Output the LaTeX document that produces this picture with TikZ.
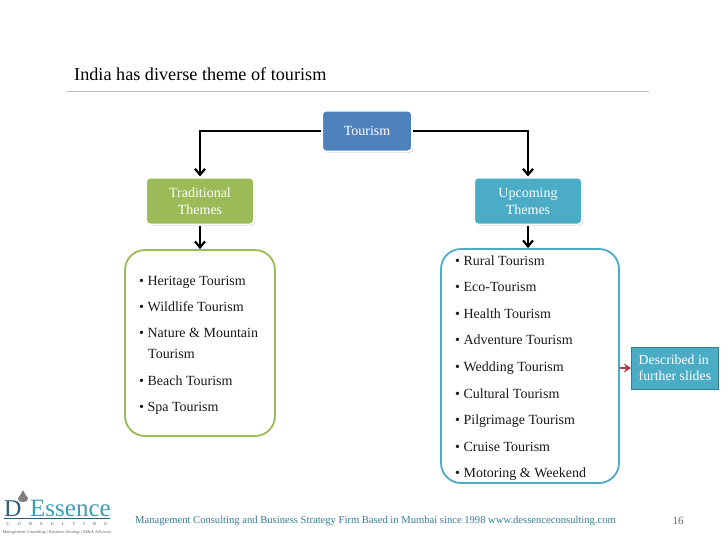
\documentclass[tikz,border=0pt]{standalone}
\usepackage{fontspec}
\setmainfont{Liberation Serif}
\usetikzlibrary{arrows.meta,shadows}
\definecolor{blueb}{HTML}{4F81BD}
\definecolor{greenb}{HTML}{9BBB59}
\definecolor{tealb}{HTML}{4BACC6}
\definecolor{teald}{HTML}{357F93}
\definecolor{logod}{HTML}{2F5D78}
\definecolor{logol}{HTML}{3E9DB5}
\definecolor{redarrow}{HTML}{B03A48}
\tikzset{
 x=1pt,y=-1pt,
 headbox/.style={rounded corners=4pt,draw=white,line width=2pt,text=white,align=center,font=\fontsize{14}{17}\selectfont,inner sep=0pt,
   drop shadow={shadow xshift=1pt,shadow yshift=-1pt,opacity=.6,fill=black!60,rounded corners=5pt}},
 arrowline/.style={draw=black,line width=2.2pt,-{Straight Barb[length=6pt,width=10pt,line width=2.2pt]}},
 listbox/.style={rounded corners=20pt,line width=1.8pt,fill=white,inner sep=0pt},
 item/.style={anchor=base west,inner sep=0pt,font=\fontsize{14}{21}\selectfont,text=black!90},
}
\begin{document}
\begin{tikzpicture}
\useasboundingbox (0,0) rectangle (728,546);
\fill[white] (0,0) rectangle (728,546);
\node[anchor=west,inner sep=0pt,font=\fontsize{18.2}{22}\selectfont] (title) at (74,74.5) {India has diverse theme of tourism};
\coordinate (ruleL) at (67,91);
\coordinate (ruleR) at (649,91);
\draw[black!25,line width=1pt] (ruleL) -- (ruleR);

\node[headbox,fill=blueb,minimum width=90pt,minimum height=41pt] (tourism) at (367,131) {Tourism};
\node[headbox,fill=greenb,minimum width=108pt,minimum height=47pt] (trad) at (200,201) {Traditional\\Themes};
\node[headbox,fill=tealb,minimum width=108pt,minimum height=47pt] (up) at (528,201) {Upcoming\\Themes};

\node[listbox,draw=greenb,minimum width=150pt,minimum height=186pt] (left) at (200,343) {};
\node[listbox,draw=tealb,minimum width=178pt,minimum height=234pt] (right) at (530,366) {};

\draw[arrowline] (tourism.west) -| (trad.north);
\draw[arrowline] (tourism.east) -| (up.north);
\draw[arrowline] (trad.south) -- (trad.south |- left.north);
\draw[arrowline] (up.south) -- (up.south |- right.north);

\node[item] (l1) at (139,285) {• Heritage Tourism};
\node[item] (l2) at (139,311) {• Wildlife Tourism};
\node[item] (l3) at (139,337.5) {• Nature \& Mountain};
\node[item] (l3b) at (148,358) {Tourism};
\node[item] (l4) at (139,385) {• Beach Tourism};
\node[item] (l5) at (139,411) {• Spa Tourism};

\node[item] (r1) at (455,265) {• Rural Tourism};
\node[item] (r2) at (455,291.5) {• Eco-Tourism};
\node[item] (r3) at (455,318) {• Health Tourism};
\node[item] (r4) at (455,344.5) {• Adventure Tourism};
\node[item] (r5) at (455,371) {• Wedding Tourism};
\node[item] (r6) at (455,398) {• Cultural Tourism};
\node[item] (r7) at (455,424) {• Pilgrimage Tourism};
\node[item] (r8) at (455,451) {• Cruise Tourism};
\node[item] (r9) at (455,477) {• Motoring \& Weekend};

\node[draw=teald,fill=tealb,line width=.8pt,minimum width=87pt,minimum height=42pt,inner sep=0pt,text=white,align=left,anchor=west,font=\fontsize{13.8}{16}\selectfont] (note) at (631,368) {Described in\\further slides};
\draw[draw=redarrow,line width=2pt,-{Stealth[length=7pt,width=9pt]}] (right.east |- note.west) -- (note.west);

% footer
\node[anchor=west,inner sep=0pt,text=teald,font=\fontsize{10.6}{13}\selectfont] (foot) at (135,521) {Management Consulting and Business Strategy Firm Based in Mumbai since 1998 www.dessenceconsulting.com};
\node[anchor=center,inner sep=0pt,text=black!60,font=\fontsize{11}{13}\selectfont] (page) at (678,521) {16};

% logo
\node[anchor=base west,inner sep=0pt,text=logod,font=\fontsize{24}{25}\selectfont] (logoD) at (4,516) {D};
\node[anchor=base west,inner sep=0pt,text=logol,font=\fontsize{25}{25}\selectfont] (logoE) at (30,516) {Essence};
\fill[black!50] (23,490) .. controls (21,495) and (18,497) .. (18,499) .. controls (18,503) and (28,503) .. (28,499) .. controls (28,497) and (25,495) .. (23,490) -- cycle;
\fill[logod] (4,517.5) rectangle (110,519);
\node[anchor=center,inner sep=0pt,text=logod,font=\fontsize{4.5}{5}\selectfont] (logoC) at (57,524) {C\hspace{8pt}O\hspace{8pt}N\hspace{8pt}S\hspace{8pt}U\hspace{8pt}L\hspace{8pt}T\hspace{8pt}I\hspace{8pt}N\hspace{8pt}G};
\node[anchor=center,inner sep=0pt,text=black!60,font=\fontsize{4.4}{5}\selectfont] (logoT) at (57,532) {Management Consulting | Business Strategy | M\&A Advisory};
\end{tikzpicture}
\end{document}
